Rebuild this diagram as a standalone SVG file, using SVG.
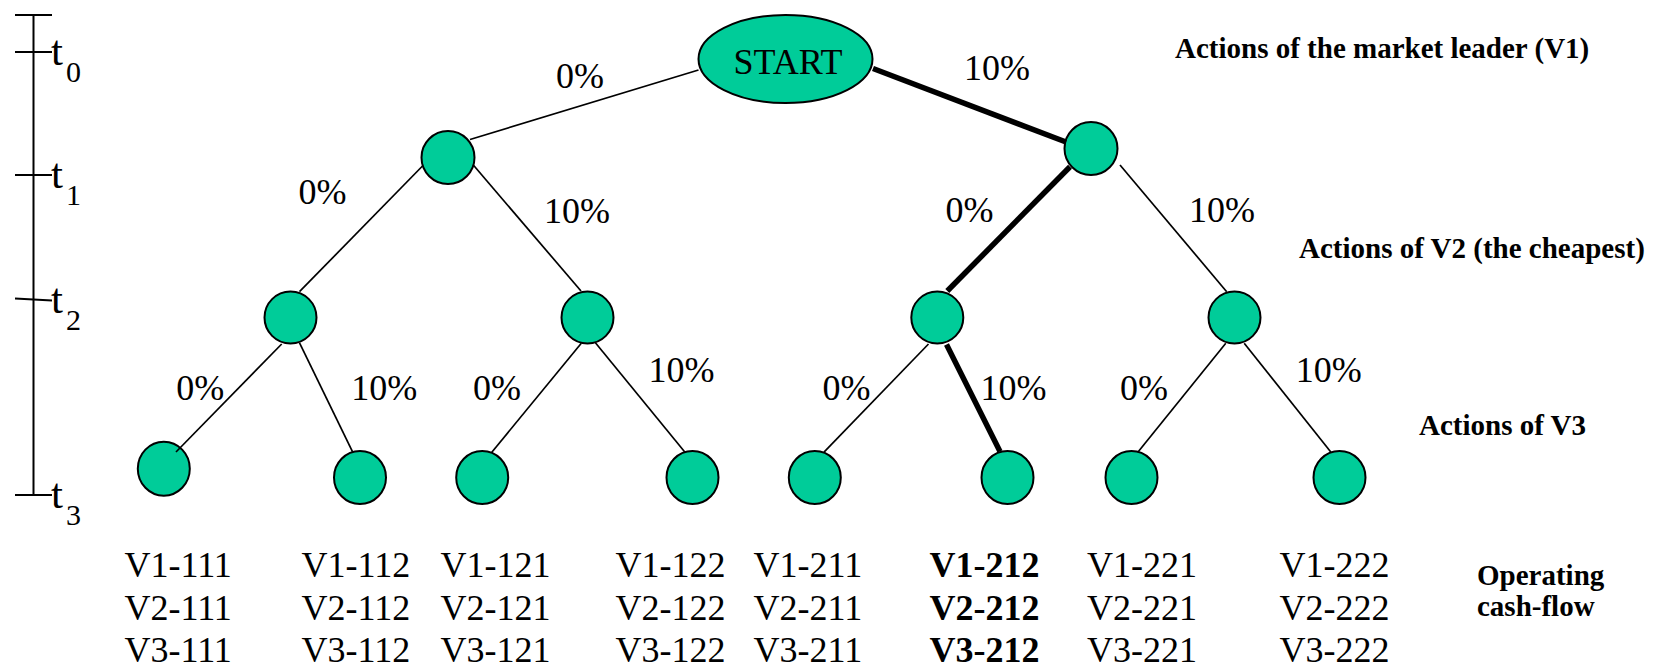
<svg xmlns="http://www.w3.org/2000/svg" width="1655" height="666" viewBox="0 0 1655 666">
  <style>
    .node { fill: #00CC99; stroke: #000; stroke-width: 2; }
    .edge { stroke: #000; stroke-width: 1.7; fill: none; }
    .edge.chosen { stroke-width: 5.5; }
    .axis { stroke: #000; stroke-width: 2; fill: none; }
    text { font-family: "Liberation Serif", "Times New Roman", serif; fill: #000; }
    .pct { font-size: 36px; text-anchor: middle; }
    .leaf { font-size: 36px; }
    .leaf.best { font-weight: bold; }
    .head { font-size: 29px; font-weight: bold; }
    .tt { font-size: 43px; }
    .ts { font-size: 30px; }
  </style>

  <!-- time axis -->
  <g id="time-axis">
    <line class="axis" x1="33.5" y1="15" x2="33.5" y2="495"/>
    <line class="axis" x1="15" y1="15" x2="52" y2="15"/>
    <line class="axis" x1="15" y1="52" x2="52" y2="52"/>
    <line class="axis" x1="15" y1="175" x2="52" y2="175"/>
    <line class="axis" x1="15" y1="298.5" x2="52" y2="300.5"/>
    <line class="axis" x1="15" y1="495" x2="52" y2="495"/>
    <text class="tt" x="51" y="65">t</text><text class="ts" x="66" y="82">0</text>
    <text class="tt" x="51" y="188">t</text><text class="ts" x="66" y="205">1</text>
    <text class="tt" x="51" y="313">t</text><text class="ts" x="66" y="330">2</text>
    <text class="tt" x="51" y="508">t</text><text class="ts" x="66" y="525">3</text>
  </g>

  <!-- decision nodes -->
  <g id="start">
    <ellipse class="node" cx="785.5" cy="59" rx="87" ry="44"/>
    <text x="788" y="74" font-size="36" text-anchor="middle">START</text>
  </g>
  <g id="n1"><circle class="node" cx="448" cy="157.5" r="26.5"/></g>
  <g id="n2"><circle class="node" cx="1091" cy="148.5" r="26.5"/></g>
  <g id="n11"><circle class="node" cx="290.5" cy="317.5" r="26"/></g>
  <g id="n12"><circle class="node" cx="587.5" cy="317.5" r="26"/></g>
  <g id="n21"><circle class="node" cx="937.3" cy="317.5" r="26"/></g>
  <g id="n22"><circle class="node" cx="1234.5" cy="317.5" r="26"/></g>

  <!-- outcome nodes -->
  <g id="n111"><ellipse class="node" cx="163.8" cy="468.7" rx="26" ry="27"/></g>
  <g id="n112"><ellipse class="node" cx="360" cy="477.5" rx="26" ry="26.5"/></g>
  <g id="n121"><ellipse class="node" cx="482.2" cy="477.5" rx="26" ry="26.5"/></g>
  <g id="n122"><ellipse class="node" cx="692.5" cy="477.5" rx="26" ry="26.5"/></g>
  <g id="n211"><ellipse class="node" cx="814.8" cy="477.5" rx="26" ry="26.5"/></g>
  <g id="n212"><ellipse class="node" cx="1007.5" cy="477.5" rx="26" ry="26.5"/></g>
  <g id="n221"><ellipse class="node" cx="1131.5" cy="477.5" rx="26" ry="26.5"/></g>
  <g id="n222"><ellipse class="node" cx="1339.5" cy="477.5" rx="26" ry="26.5"/></g>

  <!-- connectors -->
  <g id="connectors">
    <line class="edge" x1="698.5" y1="70" x2="470" y2="139.5"/>
    <line class="edge chosen" x1="873" y1="68.5" x2="1066" y2="142"/>
    <line class="edge" x1="422.5" y1="166" x2="299.5" y2="291.7"/>
    <line class="edge" x1="473.3" y1="165" x2="581" y2="291"/>
    <line class="edge chosen" x1="1070" y1="166.7" x2="947.3" y2="291"/>
    <line class="edge" x1="1120" y1="165" x2="1226.7" y2="291.7"/>
    <line class="edge" x1="281.7" y1="344" x2="176" y2="452"/>
    <line class="edge" x1="299.4" y1="342.7" x2="352.7" y2="452.2"/>
    <line class="edge" x1="581.3" y1="343.3" x2="491.8" y2="452.2"/>
    <line class="edge" x1="595.4" y1="342.7" x2="685" y2="452.2"/>
    <line class="edge" x1="928.5" y1="344" x2="824" y2="452.2"/>
    <line class="edge chosen" x1="946.5" y1="344.5" x2="1000" y2="451.5"/>
    <line class="edge" x1="1225.8" y1="343.3" x2="1137.8" y2="452.2"/>
    <line class="edge" x1="1244.2" y1="343.3" x2="1331" y2="452.2"/>
  </g>

  <!-- branch labels -->
  <g id="branch-labels">
    <text class="pct" x="580" y="88">0%</text>
    <text class="pct" x="997" y="80">10%</text>
    <text class="pct" x="322.5" y="204">0%</text>
    <text class="pct" x="577" y="222.7">10%</text>
    <text class="pct" x="969.5" y="221.7">0%</text>
    <text class="pct" x="1222" y="221.7">10%</text>
    <text class="pct" x="200.3" y="400">0%</text>
    <text class="pct" x="384.3" y="400">10%</text>
    <text class="pct" x="497" y="400">0%</text>
    <text class="pct" x="681.5" y="381.7">10%</text>
    <text class="pct" x="846.4" y="400">0%</text>
    <text class="pct" x="1013.4" y="400">10%</text>
    <text class="pct" x="1144" y="400">0%</text>
    <text class="pct" x="1328.8" y="381.7">10%</text>
  </g>

  <!-- level headings -->
  <g id="headings">
    <text class="head" x="1175" y="58">Actions of the market leader (V1)</text>
    <text class="head" x="1299" y="257.7">Actions of V2 (the cheapest)</text>
    <text class="head" x="1419" y="435">Actions of V3</text>
    <text class="head" x="1477" y="585">Operating</text>
    <text class="head" x="1477" y="616">cash-flow</text>
  </g>

  <!-- operating cash-flow per outcome -->
  <g id="outcomes">
    <text class="leaf" x="124.5" y="577">V1-111</text>
    <text class="leaf" x="124.5" y="620">V2-111</text>
    <text class="leaf" x="124.5" y="662">V3-111</text>
    <text class="leaf" x="301.5" y="577">V1-112</text>
    <text class="leaf" x="301.5" y="620">V2-112</text>
    <text class="leaf" x="301.5" y="662">V3-112</text>
    <text class="leaf" x="440.5" y="577">V1-121</text>
    <text class="leaf" x="440.5" y="620">V2-121</text>
    <text class="leaf" x="440.5" y="662">V3-121</text>
    <text class="leaf" x="615.5" y="577">V1-122</text>
    <text class="leaf" x="615.5" y="620">V2-122</text>
    <text class="leaf" x="615.5" y="662">V3-122</text>
    <text class="leaf" x="753.5" y="577">V1-211</text>
    <text class="leaf" x="753.5" y="620">V2-211</text>
    <text class="leaf" x="753.5" y="662">V3-211</text>
    <text class="leaf best" x="929.5" y="577">V1-212</text>
    <text class="leaf best" x="929.5" y="620">V2-212</text>
    <text class="leaf best" x="929.5" y="662">V3-212</text>
    <text class="leaf" x="1087" y="577">V1-221</text>
    <text class="leaf" x="1087" y="620">V2-221</text>
    <text class="leaf" x="1087" y="662">V3-221</text>
    <text class="leaf" x="1279.5" y="577">V1-222</text>
    <text class="leaf" x="1279.5" y="620">V2-222</text>
    <text class="leaf" x="1279.5" y="662">V3-222</text>
  </g>
</svg>
